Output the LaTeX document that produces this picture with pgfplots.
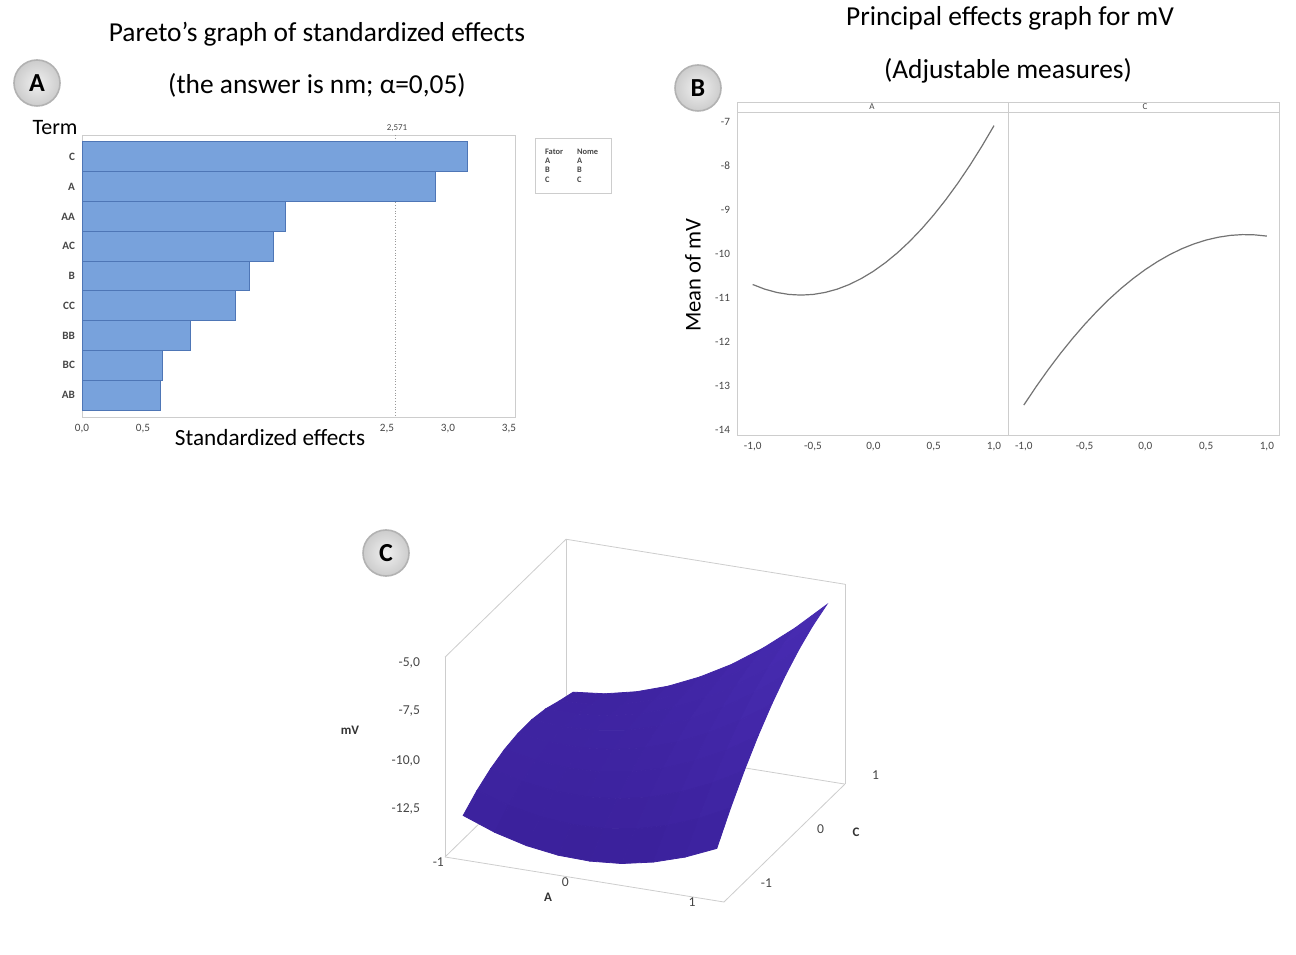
\documentclass[border=0pt]{standalone}
\usepackage{fontspec}
\setmainfont{Carlito}
\usepackage{pgfplots}
\pgfplotsset{compat=1.18}
\definecolor{barblue}{RGB}{120,162,220}
\definecolor{baredge}{RGB}{78,118,182}
\definecolor{framegray}{RGB}{205,205,205}
\definecolor{tickgray}{RGB}{70,70,70}
\begin{document}
\begin{tikzpicture}
\useasboundingbox (0,0) rectangle (648pt,477pt);
\tikzset{badge/.style={circle, draw=black!30, line width=0.8pt, inner color=black!6, outer color=black!20, minimum size=23pt, inner sep=0pt, font=\fontsize{13}{13}\selectfont\bfseries}}
% ---------- titles ----------
\node[font=\fontsize{13.7}{15}\selectfont] at (158.5pt,460pt) {Pareto’s graph of standardized effects};
\node[font=\fontsize{13.7}{15}\selectfont] at (158.5pt,434.5pt) {(the answer is nm; α=0,05)};
\node[font=\fontsize{13.7}{15}\selectfont] at (505pt,468pt) {Principal effects graph for mV};
\node[font=\fontsize{13.7}{15}\selectfont] at (504pt,441.5pt) {(Adjustable measures)};
\node[badge] at (18.5pt,435.5pt) {A};
\node[badge] at (349pt,433pt) {B};
\node[badge] at (193pt,200.5pt) {C};
% ---------- Panel A : Pareto ----------
\begin{axis}[
  at={(41pt,268.5pt)}, anchor=south west, scale only axis,
  width=216.5pt, height=141pt,
  xmin=0, xmax=3.55, ymin=0.265, ymax=9.735, y dir=reverse,
  ytick={1,...,9}, yticklabels={C,A,AA,AC,B,CC,BB,BC,AB},
  xtick={0,0.5,2.5,3,3.5},
  xticklabel style={/pgf/number format/.cd, use comma, fixed, fixed zerofill, precision=1},
  /pgf/number format/assume math mode=true,
  tick label style={font=\fontsize{5.6}{6}\selectfont, text=tickgray},
  yticklabel style={font=\fontsize{5.6}{6}\selectfont\bfseries},
  axis line style={framegray}, major tick length=0pt,
  clip=false,
]
\addplot[black!40, densely dotted, forget plot] coordinates {(2.571,0.265) (2.571,9.735)};
\addplot[xbar, bar width=1, fill=barblue, draw=baredge, line width=0.5pt]
  coordinates {(3.16,1) (2.90,2) (1.67,3) (1.57,4) (1.37,5) (1.26,6) (0.89,7) (0.66,8) (0.645,9)};
\end{axis}
\node[font=\fontsize{11}{12}\selectfont] at (27.5pt,413pt) {Term};
\node[font=\fontsize{11.6}{12}\selectfont] at (135pt,258pt) {Standardized effects};
\node[font=\fontsize{4.5}{5}\selectfont, text=tickgray] at (198.5pt,413pt) {2,571};
\node[draw=framegray, minimum width=38pt, minimum height=27.5pt, inner sep=1pt] at (286.5pt,394.25pt) {};
\node[font=\fontsize{4.2}{4.6}\selectfont\bfseries, text=tickgray, anchor=north west] at (269pt,406.5pt)
  {\begin{tabular}{@{}l@{\hspace{7pt}}l@{}}Fator & Nome\\ A & A\\ B & B\\ C & C\end{tabular}};
% ---------- Panel B : main effects ----------
\pgfplotsset{meplot/.style={
  anchor=south west, scale only axis, width=135.5pt, height=161.5pt,
  ymin=-14.11, ymax=-6.77, ytick={-14,-13,...,-7},
  xtick={-1,-0.5,0,0.5,1},
  xticklabel style={/pgf/number format/.cd, use comma, fixed, fixed zerofill, precision=1},
  /pgf/number format/assume math mode=true,
  tick label style={font=\fontsize{5.6}{6}\selectfont, text=tickgray},
  axis line style={framegray}, major tick length=0pt,
}}
\begin{axis}[meplot, at={(368.5pt,259.5pt)}, xmin=-1.13, xmax=1.116]
\addplot[black!55, line width=0.6pt] coordinates {
(-1,-10.69) (-0.9,-10.796) (-0.8,-10.871) (-0.7,-10.916) (-0.6,-10.931) (-0.5,-10.916)
(-0.4,-10.871) (-0.3,-10.796) (-0.2,-10.691) (-0.1,-10.555) (0,-10.39) (0.1,-10.194)
(0.2,-9.969) (0.3,-9.713) (0.4,-9.427) (0.5,-9.111) (0.6,-8.765) (0.7,-8.389)
(0.8,-7.983) (0.9,-7.546) (1,-7.08)};
\end{axis}
\begin{axis}[meplot, at={(504pt,259.5pt)}, xmin=-1.13, xmax=1.1, yticklabels={}]
\addplot[black!55, line width=0.6pt] coordinates {
(-1,-13.43) (-0.9,-13.018) (-0.8,-12.628) (-0.7,-12.262) (-0.6,-11.92) (-0.5,-11.6)
(-0.4,-11.304) (-0.3,-11.03) (-0.2,-10.78) (-0.1,-10.554) (0,-10.35) (0.1,-10.17)
(0.2,-10.012) (0.3,-9.878) (0.4,-9.768) (0.5,-9.68) (0.6,-9.616) (0.7,-9.574)
(0.8,-9.556) (0.9,-9.562) (1,-9.59)};
\end{axis}
\draw[framegray] (368.5pt,421pt) rectangle (639.5pt,426pt);
\draw[framegray] (504pt,421pt) -- (504pt,426pt);
\node[font=\fontsize{4.5}{4.5}\selectfont, text=tickgray] at (436pt,423.5pt) {A};
\node[font=\fontsize{4.5}{4.5}\selectfont, text=tickgray] at (572.5pt,423.5pt) {C};
\node[font=\fontsize{11.3}{12}\selectfont, rotate=90] at (346.5pt,339.5pt) {Mean of mV};
% ---------- Panel C : surface ----------
\begin{axis}[
  at={(222.5pt,26pt)}, anchor=south west,
  x={(63.4pt,-10.23pt)}, y={(27.5pt,26.8pt)}, z={(0pt,9.7pt)},
  xmin=-1.1, xmax=1.1, ymin=-1.1, ymax=1.1, zmin=-15.3, zmax=-5,
  xtick={-1,0,1}, ytick={-1,0,1}, ztick={-12.5,-10,-7.5,-5},
  /pgf/number format/assume math mode=true,
  tick label style={font=\fontsize{6.8}{7}\selectfont, text=tickgray},
  zticklabel style={xshift=-9pt, /pgf/number format/.cd, use comma, fixed, fixed zerofill, precision=1},
  xticklabel style={xshift=-7pt, yshift=5pt},
  yticklabel style={xshift=13pt, yshift=13pt},
  axis line style={framegray}, major tick length=0pt,
  colormap={mv}{rgb255=(58,32,154) rgb255=(72,44,178)},
]
\addplot3[surf, shader=flat, mesh/rows=9, mesh/cols=9] table[row sep=\\] {
A C z\\
-1 -1 -13.33\\ -0.75 -1 -13.94\\ -0.5 -1 -14.36\\ -0.25 -1 -14.59\\ 0 -1 -14.63\\ 0.25 -1 -14.49\\ 0.5 -1 -14.15\\ 0.75 -1 -13.63\\ 1 -1 -12.92\\
-1 -0.75 -12.74\\ -0.75 -0.75 -13.25\\ -0.5 -0.75 -13.57\\ -0.25 -0.75 -13.70\\ 0 -0.75 -13.64\\ 0.25 -0.75 -13.40\\ 0.5 -0.75 -12.96\\ 0.75 -0.75 -12.34\\ 1 -0.75 -11.53\\
-1 -0.5 -12.30\\ -0.75 -0.5 -12.71\\ -0.5 -0.5 -12.93\\ -0.25 -0.5 -12.96\\ 0 -0.5 -12.80\\ 0.25 -0.5 -12.46\\ 0.5 -0.5 -11.92\\ 0.75 -0.5 -11.20\\ 1 -0.5 -10.29\\
-1 -0.25 -12.00\\ -0.75 -0.25 -12.31\\ -0.5 -0.25 -12.43\\ -0.25 -0.25 -12.36\\ 0 -0.25 -12.10\\ 0.25 -0.25 -11.66\\ 0.5 -0.25 -11.02\\ 0.75 -0.25 -10.20\\ 1 -0.25 -9.19\\
-1 0 -11.85\\ -0.75 0 -12.06\\ -0.5 0 -12.08\\ -0.25 0 -11.91\\ 0 0 -11.55\\ 0.25 0 -11.01\\ 0.5 0 -10.27\\ 0.75 0 -9.35\\ 1 0 -8.24\\
-1 0.25 -11.84\\ -0.75 0.25 -11.95\\ -0.5 0.25 -11.87\\ -0.25 0.25 -11.60\\ 0 0.25 -11.14\\ 0.25 0.25 -10.50\\ 0.5 0.25 -9.66\\ 0.75 0.25 -8.64\\ 1 0.25 -7.43\\
-1 0.5 -11.98\\ -0.75 0.5 -11.99\\ -0.5 0.5 -11.81\\ -0.25 0.5 -11.44\\ 0 0.5 -10.88\\ 0.25 0.5 -10.14\\ 0.5 0.5 -9.20\\ 0.75 0.5 -8.08\\ 1 0.5 -6.77\\
-1 0.75 -12.26\\ -0.75 0.75 -12.17\\ -0.5 0.75 -11.89\\ -0.25 0.75 -11.42\\ 0 0.75 -10.76\\ 0.25 0.75 -9.92\\ 0.5 0.75 -8.88\\ 0.75 0.75 -7.66\\ 1 0.75 -6.25\\
-1 1 -12.50\\ -0.75 1 -12.32\\ -0.5 1 -11.95\\ -0.25 1 -11.40\\ 0 1 -10.66\\ 0.25 1 -9.75\\ 0.5 1 -8.64\\ 0.75 1 -7.35\\ 1 1 -5.88\\
};
\end{axis}
\node[font=\fontsize{6.5}{7}\selectfont\bfseries, text=black!80] at (175pt,112pt) {mV};
\node[font=\fontsize{6.5}{7}\selectfont\bfseries, text=black!80] at (274pt,28.5pt) {A};
\node[font=\fontsize{6.5}{7}\selectfont\bfseries, text=black!80] at (428pt,61pt) {C};
\end{tikzpicture}
\end{document}
